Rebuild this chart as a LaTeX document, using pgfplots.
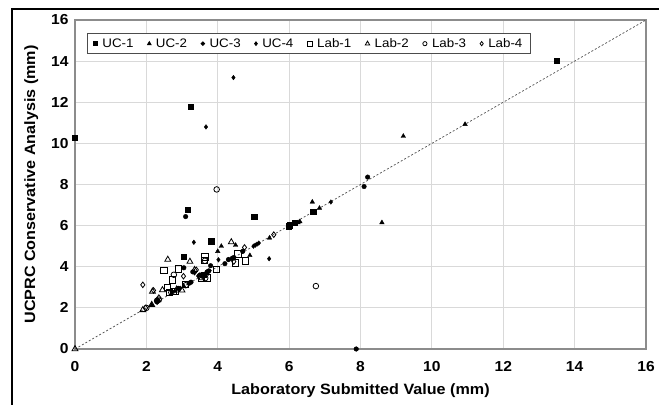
\documentclass[border=0pt]{standalone}
\usepackage{pgfplots}
\pgfplotsset{compat=1.18}
\usepackage{fontspec}
\setmainfont{Liberation Sans}[FakeStretch=1.08]
\newcommand{\tickfont}{\fontsize{14.5}{16}\selectfont\bfseries}
\newcommand{\labfont}{\fontsize{15}{17}\selectfont\bfseries}
\newcommand{\gap}{\makebox[12bp]{}}
\begin{document}
\begin{tikzpicture}
\useasboundingbox (-75bp,-56bp) rectangle (584bp,349bp);
\draw[line width=1.3bp] (-63bp,-70bp) rectangle (600bp,340bp);
\begin{axis}[
  at={(0,0)}, anchor=south west,
  scale only axis, width=571bp, height=329bp,
  xmin=0, xmax=16, ymin=0, ymax=16,
  xtick={0,2,...,16}, ytick={0,2,...,16},
  major tick length=0pt,
  grid=major,
  grid style={line width=1.2bp, color=black!15},
  axis line style={line width=1.2bp, color=black!45},
  /pgf/number format/assume math mode=true,
  xticklabel={\tickfont\pgfmathprintnumber{\tick}},
  yticklabel={\tickfont\pgfmathprintnumber{\tick}},
  xticklabel style={yshift=-9bp},
  yticklabel style={xshift=-3bp},
  xlabel={\labfont Laboratory Submitted Value (mm)},
  ylabel={\labfont UCPRC Conservative Analysis (mm)},
  xlabel style={yshift=-5bp},
  ylabel style={yshift=6bp},
  legend columns=8,
  legend style={at={(0.021,0.9605)}, anchor=north west, draw=black!70, line width=0.9bp,
    font=\fontsize{12.4}{15}\selectfont, inner ysep=3bp, inner xsep=6bp,
    /tikz/every odd column/.append style={column sep=3bp}},
  legend image code/.code={\draw[#1, every mark/.append style={scale=0.75}] plot coordinates {(0.1cm,0cm)};},
  every axis plot/.append style={only marks, black},
  clip=false,
]
\addplot[mark=square*, mark size=2.7bp] coordinates {
(0,10.28)(3.25,11.77)(3.15,6.76)(3.05,4.5)(3.82,5.24)(5.02,6.44)(5.98,5.98)(6.15,6.15)(6.68,6.68)(13.5,14.02)(6.02,6.02)(3.6,3.62)
};
\addlegendentry{UC-1\gap}
\addplot[mark=triangle*, mark size=2.6bp] coordinates {
(9.2,10.35)(10.93,10.93)(8.6,6.15)(6.65,7.15)(6.85,6.85)(6.3,6.2)(6.25,6.15)(4.1,5.0)(4.0,4.75)(4.5,5.05)(4.9,4.55)(5.45,5.4)(2.15,2.15)(2.8,2.8)(3.05,3.05)(3.7,3.7)(4.4,4.4)(2.35,2.35)
};
\addlegendentry{UC-2\gap}
\addplot[mark=*, mark size=2.3bp] coordinates {
(7.88,0)(8.1,7.9)(8.2,8.36)(3.1,6.44)(3.05,3.95)(4.7,4.75)(4.3,4.35)(4.4,4.4)(4.2,4.15)(3.55,3.55)(3.7,3.75)(3.8,4.05)(3.75,3.8)(2.3,2.3)(3.25,3.25)(3.2,3.2)(2.9,2.95)(5.98,5.95)(3.6,3.6)(3.3,3.75)(4.45,4.45)(3.5,3.6)
};
\addlegendentry{UC-3\gap}
\addplot[mark=diamond*, mark size=2.3bp] coordinates {
(4.44,13.2)(3.67,10.8)(3.33,5.19)(5.44,4.39)(7.17,7.15)(4.02,4.34)(5.0,5.0)(5.05,5.05)(5.1,5.1)(5.15,5.15)(3.35,3.7)(3.45,3.55)(4.3,4.35)(2.95,2.95)(4.7,4.75)(2.3,2.4)
};
\addlegendentry{UC-4\gap}
\addplot[mark=square, mark size=3.2bp, mark options={fill=white, line width=0.8bp}] coordinates {
(2.49,3.82)(2.89,3.9)(2.73,3.37)(2.59,2.99)(2.65,2.75)(2.8,2.8)(3.64,4.47)(3.62,4.32)(4.56,4.62)(4.5,4.18)(4.77,4.29)(3.97,3.87)(3.7,3.45)(3.55,3.45)(3.1,3.15)(2.75,2.8)
};
\addlegendentry{Lab-1\gap}
\addplot[mark=triangle, mark size=3.4bp, mark options={fill=white, line width=0.8bp}] coordinates {
(0,0)(2.6,4.35)(3.22,4.25)(4.38,5.2)(1.9,1.9)(2.17,2.8)(2.45,2.87)(3.0,2.85)(3.55,3.45)(3.35,3.85)(2.85,2.9)(2.15,2.15)
};
\addlegendentry{Lab-2\gap}
\addplot[mark=o, mark size=2.8bp, mark options={fill=white, line width=0.8bp}] coordinates {
(3.97,7.76)(6.75,3.06)(2.77,3.61)(3.64,4.29)(2.3,2.35)(2.7,2.75)(3.1,3.1)(3.65,3.45)(2.0,2.0)(2.35,2.4)
};
\addlegendentry{Lab-3\gap}
\addplot[mark=diamond, mark size=2.8bp, mark options={fill=white, line width=0.8bp}] coordinates {
(1.9,3.12)(3.04,3.54)(2.2,2.85)(2.35,2.5)(3.4,3.85)(4.75,4.94)(5.57,5.56)(1.98,2.0)(3.7,3.65)(4.45,4.25)(2.3,2.3)
};
\addlegendentry{Lab-4}
\addplot[no marks, sharp plot, black!70, line width=0.7bp, dash pattern=on 2bp off 2bp, forget plot] coordinates {(0,0)(16,16)};
\end{axis}
\end{tikzpicture}
\end{document}
